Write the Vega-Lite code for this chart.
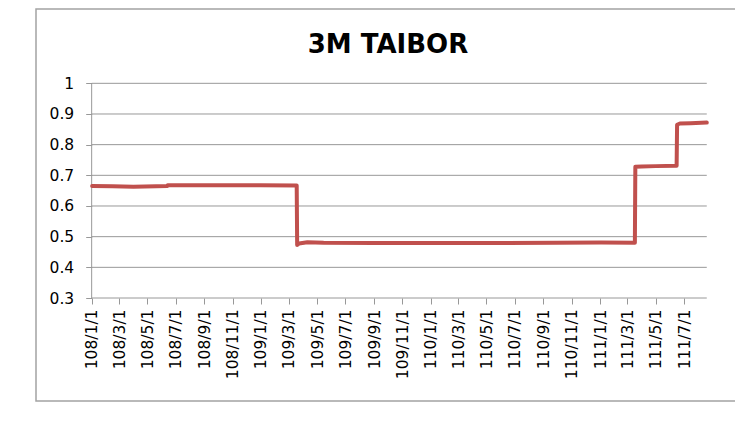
{
  "$schema": "https://vega.github.io/schema/vega-lite/v6.json",
  "autosize": "none",
  "padding": {"left": 36, "top": 9, "right": 0, "bottom": 28},
  "width": 700,
  "height": 392,
  "background": "white",
  "title": {"text": "3M TAIBOR", "anchor": "middle", "frame": "group", "offset": 0, "dy": 70, "dx": 2, "baseline": "alphabetic"},
  "config": {
    "view": {"stroke": "#a3a3a3", "strokeWidth": 1.5},
    "title": {"font": "DejaVu Sans", "fontSize": 26, "fontWeight": "bold", "color": "#000000"},
    "axis": {"grid": false, "labelFont": "DejaVu Sans", "labelFontSize": 15.5, "labelColor": "#000000", "tickColor": "#989898", "tickWidth": 1, "domain": false, "title": null}
  },
  "layer": [
    {
      "data": {"values": [{"g": 0.3}, {"g": 0.4}, {"g": 0.5}, {"g": 0.6}, {"g": 0.7}, {"g": 0.8}, {"g": 0.9}, {"g": 1.0}]},
      "mark": {"type": "rule", "color": "#989898", "strokeWidth": 1},
      "encoding": {
        "y": {
          "field": "g", "type": "quantitative", "title": null,
          "scale": {"domain": [-0.0358, 1.2423], "nice": false, "zero": false},
          "axis": {
            "orient": "left", "offset": -55.7, "tickSize": 6, "labelPadding": 12, "tickCount": 30,
            "values": [0.3, 0.4, 0.5, 0.6, 0.7, 0.8, 0.9, 1.0],
            "format": "~g", "labelOverlap": false, "labelFlush": false, "labelBound": false
          }
        },
        "x": {
          "datum": 1546300800000, "type": "temporal", "title": null,
          "scale": {"type": "utc", "domain": [1535932800000, 1666310400000], "nice": false},
          "axis": {
            "orient": "bottom", "offset": -103, "tickSize": 6, "labelPadding": 5, "tickCount": 60,
            "labelAngle": 270, "labelAlign": "right", "labelBaseline": "middle",
            "labelOverlap": false, "labelFlush": false, "labelBound": false,
            "values": [1546300800000, 1551398400000, 1556668800000, 1561939200000, 1567296000000, 1572566400000,
                       1577836800000, 1583020800000, 1588291200000, 1593561600000, 1598918400000, 1604188800000,
                       1609459200000, 1614556800000, 1619827200000, 1625097600000, 1630454400000, 1635724800000,
                       1640995200000, 1646092800000, 1651363200000, 1656633600000],
            "labelExpr": "(utcyear(datum.value) - 1911) + '/' + (utcmonth(datum.value) + 1) + '/' + utcdate(datum.value)"
          }
        },
        "x2": {"datum": 1660867200000}
      }
    },
    {
      "data": {"values": [{"a": 1}]},
      "mark": {"type": "rule", "color": "#989898", "strokeWidth": 1},
      "encoding": {
        "x": {"datum": 1546300800000, "type": "temporal"},
        "y": {"datum": 0.3, "type": "quantitative"},
        "y2": {"datum": 1.0}
      }
    },
    {
      "data": {"values": [
        {"date": "2019-01-02", "rate": 0.665},
        {"date": "2019-02-15", "rate": 0.664},
        {"date": "2019-04-01", "rate": 0.663},
        {"date": "2019-05-20", "rate": 0.664},
        {"date": "2019-06-13", "rate": 0.665},
        {"date": "2019-06-14", "rate": 0.668},
        {"date": "2019-09-01", "rate": 0.668},
        {"date": "2019-12-31", "rate": 0.668},
        {"date": "2020-03-18", "rate": 0.667},
        {"date": "2020-03-19", "rate": 0.473},
        {"date": "2020-03-23", "rate": 0.478},
        {"date": "2020-04-10", "rate": 0.482},
        {"date": "2020-05-15", "rate": 0.480},
        {"date": "2020-09-01", "rate": 0.479},
        {"date": "2021-01-04", "rate": 0.479},
        {"date": "2021-06-01", "rate": 0.479},
        {"date": "2021-10-01", "rate": 0.480},
        {"date": "2022-01-03", "rate": 0.481},
        {"date": "2022-03-17", "rate": 0.480},
        {"date": "2022-03-18", "rate": 0.728},
        {"date": "2022-04-01", "rate": 0.729},
        {"date": "2022-05-01", "rate": 0.730},
        {"date": "2022-06-15", "rate": 0.731},
        {"date": "2022-06-16", "rate": 0.865},
        {"date": "2022-06-22", "rate": 0.869},
        {"date": "2022-07-15", "rate": 0.870},
        {"date": "2022-08-19", "rate": 0.872}
      ]},
      "mark": {"type": "line", "color": "#C0504D", "strokeWidth": 4, "strokeJoin": "round", "strokeCap": "round"},
      "encoding": {
        "x": {"field": "date", "type": "temporal", "title": null},
        "y": {"field": "rate", "type": "quantitative", "title": null}
      }
    }
  ]
}
